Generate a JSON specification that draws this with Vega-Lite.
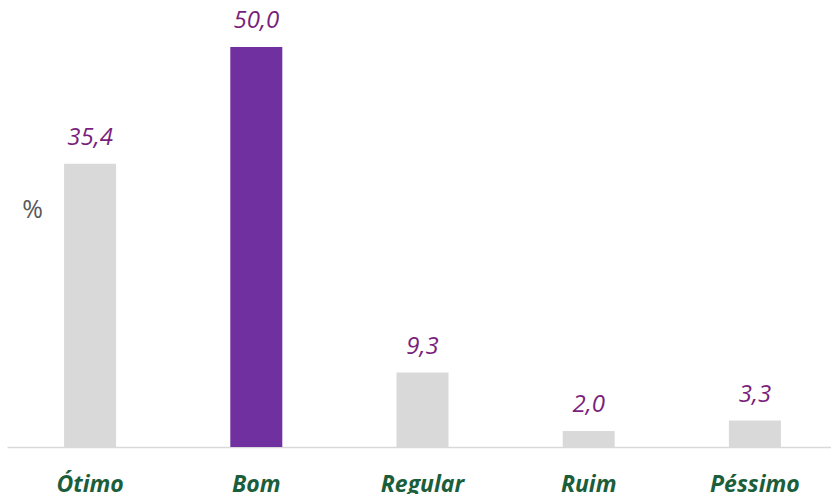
{
  "$schema": "https://vega.github.io/schema/vega-lite/v6.json",
  "autosize": "none",
  "width": 831,
  "height": 440,
  "padding": {"left": 7, "top": 7, "right": 0, "bottom": 47},
  "background": "white",
  "config": {"view": {"stroke": null}},
  "data": {
    "values": [
      {"categoria": "Ótimo", "valor": 35.4, "label": "35,4", "destaque": "nao"},
      {"categoria": "Bom", "valor": 50.0, "label": "50,0", "destaque": "sim"},
      {"categoria": "Regular", "valor": 9.3, "label": "9,3", "destaque": "nao"},
      {"categoria": "Ruim", "valor": 2.0, "label": "2,0", "destaque": "nao"},
      {"categoria": "Péssimo", "valor": 3.3, "label": "3,3", "destaque": "nao"}
    ]
  },
  "encoding": {
    "x": {
      "field": "categoria",
      "type": "nominal",
      "sort": null,
      "scale": {"paddingInner": 0, "paddingOuter": 0},
      "axis": {
        "title": null,
        "labelAngle": 0,
        "ticks": false,
        "tickSize": 0,
        "domainColor": "#d9d9d9",
        "domainWidth": 1.5,
        "labelFont": "Open Sans",
        "labelFontSize": 23,
        "labelFontWeight": "bold",
        "labelFontStyle": "italic",
        "labelColor": "#1b5e3b",
        "labelBaseline": "alphabetic",
        "labelPadding": 44
      }
    },
    "y": {
      "field": "valor",
      "type": "quantitative",
      "scale": {"domain": [0, 55]},
      "axis": {
        "labels": false,
        "ticks": false,
        "domain": false,
        "grid": false,
        "title": "%",
        "titleAngle": 0,
        "titleFont": "Open Sans",
        "titleFontSize": 25,
        "titleFontWeight": "normal",
        "titleColor": "#595959",
        "titleAlign": "center",
        "titleBaseline": "alphabetic",
        "titleX": 25,
        "titleY": 210
      }
    }
  },
  "layer": [
    {
      "mark": {"type": "bar", "width": 52},
      "encoding": {
        "color": {
          "field": "destaque",
          "type": "nominal",
          "scale": {"domain": ["nao", "sim"], "range": ["#d9d9d9", "#7030a0"]},
          "legend": null
        }
      }
    },
    {
      "mark": {
        "type": "text",
        "dy": -19,
        "baseline": "alphabetic",
        "font": "Open Sans",
        "fontSize": 24,
        "fontStyle": "italic",
        "color": "#7a1f7b"
      },
      "encoding": {"text": {"field": "label"}}
    }
  ]
}
